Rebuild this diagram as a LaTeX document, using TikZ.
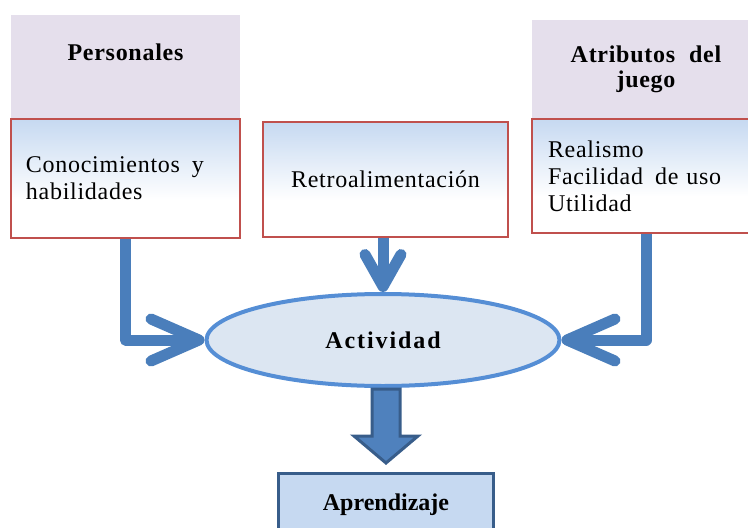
\documentclass[tikz,border=0pt]{standalone}
\usepackage{fontspec}
\setmainfont{Liberation Serif}[LetterSpace=3]
\usepackage{xcolor}
\usetikzlibrary{positioning, arrows.meta, shapes.geometric, calc}

\definecolor{headfill}{HTML}{E5DFEC}
\definecolor{boxline}{HTML}{C0504D}
\definecolor{paleblue}{HTML}{C6D9F1}
\definecolor{flowblue}{HTML}{4A7EBB}
\definecolor{ovalfill}{HTML}{DCE6F2}
\definecolor{ovalline}{HTML}{558ED5}
\definecolor{darkblue}{HTML}{385D8A}
\definecolor{blockfill}{HTML}{4F81BD}

\pgfdeclareverticalshading{boxshade}{100bp}{color(0bp)=(white); color(41bp)=(white); color(75bp)=(paleblue); color(100bp)=(paleblue)}

\begin{document}
\begin{tikzpicture}[
  x=1pt, y=-1pt,
  head/.style={fill=headfill, inner sep=0pt, align=center, font=\fontsize{24pt}{25pt}\selectfont\bfseries},
  detail/.style={draw=boxline, line width=1.5pt, shade, shading=boxshade, inner ysep=0pt, align=left, font=\fontsize{24pt}{27pt}\selectfont},
  oval/.style={ellipse, draw=ovalline, line width=4pt, fill=ovalfill, minimum width=353pt, minimum height=92pt, inner sep=0pt, font=\fontsize{24pt}{27pt}\selectfont\bfseries\addfontfeature{LetterSpace=8}},
  result/.style={draw=darkblue, line width=3pt, fill=paleblue, minimum width=215pt, minimum height=62pt, font=\fontsize{24pt}{27pt}\selectfont\bfseries\addfontfeature{LetterSpace=0}},
  flow/.style={draw=flowblue, line width=11pt, line join=round},
  block/.style={draw=darkblue, fill=blockfill, line width=3pt, line join=miter}
]
  \useasboundingbox (0,0) rectangle (748,528);

  \node[head, minimum width=229pt, text height=45pt, text depth=58pt] (pers) at (125.5,66.5) {Personales};
  \node[detail, below=0pt of pers, inner xsep=15pt, text width=199pt, minimum height=119pt] (know) {Conocimientos\hspace{12pt}y\\habilidades};

  \node[detail, align=center, inner xsep=15pt, text width=215pt, minimum height=115pt] (retro) at (385.5,179.5) {Retroalimentación};

  \node[head, minimum width=228pt, minimum height=98pt] (attr) at (646,69) {Atributos\hspace{14pt}del\\juego};
  \node[detail, below=0pt of attr, inner xsep=16pt, text width=196pt, minimum height=114pt] (qual) {Realismo\\Facilidad\hspace{12pt}de uso\\Utilidad};

  \node[oval] (act) at (383,340) {Actividad};
  \node[result] (aprend) at (386,504.5) {Aprendizaje};

  \draw[flow, -{Straight Barb[length=48pt, width=42pt, line cap=round, line join=round]}] (know.south) |- (act.west);
  \draw[flow, -{Straight Barb[length=32pt, width=36pt, line cap=round, line join=round]}] (act.north |- retro.south) -- (act.north);
  \draw[flow, -{Straight Barb[length=48pt, width=42pt, line cap=round, line join=round]}] (qual.south) |- (act.east);

  \draw[block] ($(act.south -| aprend.north)+(-14,1)$) -- ($(aprend.north)+(-14,-36)$) -- ($(aprend.north)+(-32,-36)$)
    -- ($(aprend.north)+(0,-9)$) -- ($(aprend.north)+(32,-36)$) -- ($(aprend.north)+(14,-36)$)
    -- ($(act.south -| aprend.north)+(14,1)$) -- cycle;
\end{tikzpicture}
\end{document}
